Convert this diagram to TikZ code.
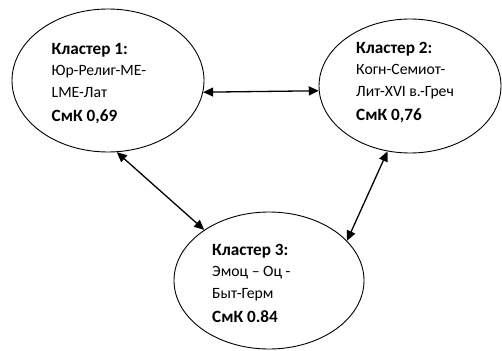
\documentclass[tikz,border=0pt]{standalone}
\usepackage{fontspec}
\setmainfont{Carlito}
\usetikzlibrary{shapes.geometric,arrows.meta}
\newcommand{\bld}[1]{{\fontsize{17.2}{21}\selectfont\bfseries #1}}
\begin{document}
\begin{tikzpicture}[x=1pt,y=-1pt,
  cluster/.style={draw=black,line width=0.9pt,ellipse,inner sep=0pt},
  label/.style={anchor=north west,inner sep=0pt,align=left,font=\fontsize{15.7}{21.5}\selectfont},
  link/.style={line width=1.3pt,{Triangle[length=10pt,width=9pt]}-{Triangle[length=10pt,width=9pt]}}]
\useasboundingbox (0,0) rectangle (502,350);
\node[cluster,minimum width=192pt,minimum height=143pt] (c1) at (108,80.5) {};
\node[cluster,minimum width=182pt,minimum height=134pt] (c2) at (410,86) {};
\node[cluster,minimum width=190pt,minimum height=137pt] (c3) at (269,280.5) {};
\node[label] (t1) at (51.5,43) {\bld{Кластер 1:}\\Юр-Религ-МЕ-\\LME-Лат\\[2.5pt]\bld{СмК 0,69}};
\node[label] (t2) at (356,42) {\bld{Кластер 2:}\\Когн-Семиот-\\Лит-XVI в.-Греч\\[2.5pt]\bld{СмК 0,76}};
\node[label] (t3) at (212,244) {\bld{Кластер 3:}\\Эмоц – Оц -\\Быт-Герм\\[2.5pt]\bld{СмК 0.84}};
\draw[link] (c1.-7) -- (c2.183);
\draw[link] (c1.-83) -- (c3.142);
\draw[link] (c2.251) -- (c3.27);
\end{tikzpicture}
\end{document}
